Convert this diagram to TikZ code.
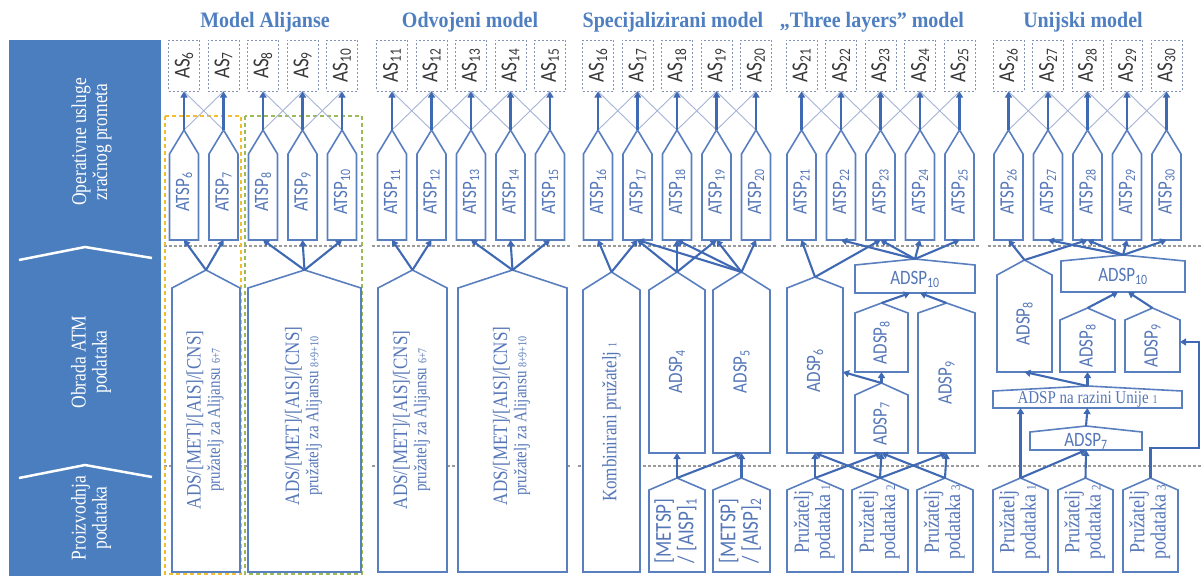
\documentclass[tikz,border=0pt]{standalone}
\usepackage{fontspec}
\setmainfont{Liberation Serif}
\newfontfamily\calfont{Carlito}
\usetikzlibrary{arrows.meta,calc}
\definecolor{panelc}{HTML}{4A7EBF}
\definecolor{titlec}{HTML}{4F7FC0}
\definecolor{boxc}{HTML}{5A7FBF}
\definecolor{arrc}{HTML}{3F69B2}
\definecolor{txtc}{HTML}{5577B8}
\definecolor{asc}{HTML}{8494B4}
\definecolor{thinc}{HTML}{A4B3D6}
\definecolor{sepc}{HTML}{9A9A9A}
\definecolor{yelc}{HTML}{F2BE2E}
\definecolor{grnc}{HTML}{9BBB59}
\tikzset{
 hbox/.style={draw=boxc, fill=white, line width=1.6pt, line join=miter},
 txt/.style={inner sep=0pt, text=txtc},
 arr/.style={draw=arrc, line width=2.1pt, -{Triangle[length=6pt,width=7pt]}},
 thinl/.style={draw=thinc, line width=0.9pt},
 asbox/.style={draw=asc, dash pattern=on 2pt off 2pt, line width=1pt, minimum width=31pt, minimum height=51pt, inner sep=0pt, text=black!78},
 sepl/.style={draw=sepc, dash pattern=on 3pt off 2pt, line width=1.1pt},
 ttl/.style={text=titlec, inner sep=0pt, font=\fontsize{20}{22}\selectfont\bfseries},
}
\newcommand{\fsz}[1]{\fontsize{#1}{#1}\selectfont}
\newcommand{\tall}[1]{\scalebox{1}[1.2]{#1}}
\newcommand{\rotx}[1]{\rotatebox{90}{\tall{#1}}}
\newcommand{\rottwo}[2]{\rotatebox{90}{\tall{\begin{tabular}{@{}c@{}}#1\\#2\end{tabular}}}}
% name, xl, xr, yapex, yshoulder, ybottom, node options, text
\newcommand{\house}[8]{%
  \draw[hbox] (#2,#6) -- (#2,#5) -- ({(#2+#3)/2},#4) -- (#3,#5) -- (#3,#6) -- cycle;
  \coordinate (#1-a) at ({(#2+#3)/2},#4);
  \coordinate (#1-b) at ({(#2+#3)/2},#6);
  \node[#7] (#1) at ({(#2+#3)/2},{(#5+#6)/2}) {#8};
}
\newcommand{\adstext}[1]{\rotatebox{90}{\tall{\fontsize{17}{16}\selectfont\begin{tabular}{@{}c@{}}ADS/[MET]/[AIS]/[CNS]\\ \fontsize{15}{15}\selectfont pružatelj za Alijansu {\fsz{10}#1}\end{tabular}}}}
\newcommand{\prtext}[1]{{\fontsize{18}{17}\selectfont\rottwo{Pružatelj}{podataka {\fsz{11}#1}}}}
\newcommand{\adsptext}[1]{\rotx{\calfont\fsz{17}ADSP\textsubscript{#1}}}
\begin{document}
\begin{tikzpicture}[x=1pt,y=-1pt]
\useasboundingbox (0,0) rectangle (1201,576);
% left panel
\fill[panelc] (9,40) rectangle (161,576);
\draw[white, line width=2.5pt] (19,260) -- (85,247) -- (152,258);
\draw[white, line width=2.5pt] (19,478) -- (85,465) -- (152,477);
\node[text=white, inner sep=0pt] (lab1) at (92.5,142) {\fontsize{17.5}{17.5}\selectfont\rottwo{Operativne usluge}{zračnog prometa}};
\node[text=white, inner sep=0pt] (lab2) at (92,362) {\fontsize{17.5}{17.5}\selectfont\rottwo{Obrada ATM}{podataka}};
\node[text=white, inner sep=0pt] (lab3) at (92,518) {\fontsize{17.5}{17.5}\selectfont\rottwo{Proizvodnja}{podataka}};
% titles
\node[ttl] (t1) at (265,22) {\scalebox{1}[1.1]{Model Alijanse}};
\node[ttl] (t2) at (470,22) {\scalebox{1}[1.1]{Odvojeni model}};
\node[ttl] (t3) at (673,22) {\scalebox{1}[1.1]{Specijalizirani model}};
\node[ttl] (t4) at (872,22) {\scalebox{1}[1.1]{„Three layers” model}};
\node[ttl] (t5) at (1083,22) {\scalebox{1}[1.1]{Unijski model}};
% separators
\foreach \a/\b in {164/362, 372/570, 578/776, 781/980, 988/1201} {
  \draw[sepl] (\a,246) -- (\b,246);
  \draw[sepl] (\a,466) -- (\b,466);
}
% alliance frames
\draw[yelc, line width=1.3pt, dash pattern=on 4pt off 3pt] (165,116) rectangle (241,574);
\draw[grnc, line width=1.3pt, dash pattern=on 4pt off 3pt] (245,116) rectangle (362,574);
% AS and ATSP columns
\foreach \g/\n in {184/6, 392/11, 598/16, 801.5/21, 1008.5/26} {
  \foreach \i in {0,...,4} {
    \pgfmathsetmacro\cx{\g+39.5*\i}
    \pgfmathtruncatemacro\k{\n+\i}
    \node[asbox] (as\k) at (\cx,65.5) {\rotx{\calfont\fsz{19}AS\textsubscript{\k}}};
    \house{atsp\k}{\cx-14.5}{\cx+14.5}{130}{154}{240}{txt,yshift=5pt}{\rotx{\calfont\fsz{17}ATSP\textsubscript{\k}}}
  }
}
% thin cross links
\foreach \a/\b in {6/7,8/9,9/10,11/12,12/13,13/14,14/15,16/17,17/18,18/19,19/20,21/22,22/23,23/24,24/25,26/27,27/28,28/29,29/30} {
  \draw[thinl] (atsp\a-a) -- (as\b.south);
  \draw[thinl] (atsp\b-a) -- (as\a.south);
}
\foreach \k in {6,...,30} { \draw[arr] (atsp\k-a) -- (as\k.south); }
% ---------- Model Alijanse
\house{ali1}{172}{240}{270}{288}{572}{txt,yshift=10pt}{\adstext{6+7}}
\house{ali2}{248}{361}{270}{288}{572}{txt,yshift=14pt}{\adstext{8+9+10}}
\foreach \t in {6,7} \draw[arr] (ali1-a) -- (atsp\t-b);
\foreach \t in {8,9,10} \draw[arr] (ali2-a) -- (atsp\t-b);
% ---------- Odvojeni model
\house{odv1}{378}{447}{270}{288}{572}{txt,yshift=10pt}{\adstext{6+7}}
\house{odv2}{458}{567}{270}{288}{572}{txt,yshift=14pt}{\adstext{8+9+10}}
\foreach \t in {11,12} \draw[arr] (odv1-a) -- (atsp\t-b);
\foreach \t in {13,14,15} \draw[arr] (odv2-a) -- (atsp\t-b);
% ---------- Specijalizirani model
\house{komb}{583}{640}{272}{290}{572}{txt,yshift=9pt}{\rotx{\fsz{17}Kombinirani pružatelj {\fsz{10}1}}}
\house{adsp4}{649}{705}{272}{290}{453}{txt}{\adsptext{4}}
\house{adsp5}{713}{770}{272}{290}{453}{txt}{\adsptext{5}}
\house{met1}{649}{705}{478}{490}{572}{txt}{\calfont\fontsize{19}{17}\selectfont\rottwo{[METSP]}{/ [AISP]\textsubscript{1}}}
\house{met2}{713}{770}{478}{490}{572}{txt}{\calfont\fontsize{19}{17}\selectfont\rottwo{[METSP]}{/ [AISP]\textsubscript{2}}}
\foreach \t in {16,17} \draw[arr] (komb-a) -- (atsp\t-b);
\foreach \t in {17,18,19} \draw[arr] (adsp4-a) -- (atsp\t-b);
\foreach \t in {17,18,19,20} \draw[arr] (adsp5-a) -- (atsp\t-b);
\draw[arr] (met1-a) -- (adsp4-b);
\draw[arr] (met1-a) -- (adsp5-b);
\draw[arr] (met2-a) -- (adsp5-b);
% ---------- Three layers model
\house{adsp6t}{787}{843}{277}{288}{453}{txt}{\adsptext{6}}
\house{adsp10t}{855}{975}{259}{265}{293}{txt}{\tall{\calfont\fsz{17}ADSP\textsubscript{10}}}
\house{adsp8t}{855}{908}{303}{313}{372}{txt}{\adsptext{8}}
\house{adsp9t}{918}{975}{303}{313}{453}{txt}{\adsptext{9}}
\house{adsp7t}{855}{908}{383}{395}{453}{txt}{\adsptext{7}}
\house{p1t}{787}{843}{478}{490}{572}{txt,yshift=9pt}{\prtext{1}}
\house{p2t}{852}{908}{478}{490}{572}{txt,yshift=9pt}{\prtext{2}}
\house{p3t}{917}{973}{478}{490}{572}{txt,yshift=9pt}{\prtext{3}}
\coordinate (adsp6t-r) at (843,372);
\draw[arr] (adsp6t-a) -- (atsp21-b);
\draw[arr] (adsp6t-a) -- (atsp23-b);
\foreach \t in {22,23,24,25} \draw[arr] (adsp10t-a) -- (atsp\t-b);
\draw[arr] (adsp8t-a) -- ($(adsp10t-b)+(-5,0)$);
\draw[arr] (adsp9t-a) -- ($(adsp10t-b)+(5,0)$);
\draw[arr] (adsp7t-a) -- (adsp8t-b);
\draw[arr] (adsp7t-a) -- (adsp6t-r);
\draw[arr] (p1t-a) -- (adsp6t-b);
\draw[arr] (p1t-a) -- (adsp7t-b);
\draw[arr] (p2t-a) -- (adsp6t-b);
\draw[arr] (p2t-a) -- (adsp7t-b);
\draw[arr] (p2t-a) -- (adsp9t-b);
\draw[arr] (p3t-a) -- (adsp7t-b);
\draw[arr] (p3t-a) -- (adsp9t-b);
% ---------- Unijski model
\house{adsp8u}{997}{1052}{260}{275}{372}{txt}{\adsptext{8}}
\house{adsp10u}{1061}{1185}{255}{261}{292}{txt}{\tall{\calfont\fsz{17}ADSP\textsubscript{10}}}
\house{adsp8s}{1060}{1115}{308}{320}{372}{txt}{\adsptext{8}}
\house{adsp9u}{1125}{1180}{308}{320}{372}{txt}{\adsptext{9}}
\house{raz}{993}{1182}{386}{391}{408}{txt}{\tall{\fsz{15}ADSP na razini Unije {\fsz{10}1}}}
\house{adsp7u}{1030}{1142}{426}{432}{450}{txt}{\tall{\calfont\fsz{17}ADSP\textsubscript{7}}}
\house{p1u}{993}{1048}{478}{490}{572}{txt,yshift=9pt}{\prtext{1}}
\house{p2u}{1058}{1113}{478}{490}{572}{txt,yshift=9pt}{\prtext{2}}
\house{p3u}{1123}{1178}{478}{490}{572}{txt,yshift=9pt}{\prtext{3}}
\coordinate (adsp9u-r) at (1180,342);
\coordinate (ur1) at (1199,448);
\coordinate (ur2) at (1199,342);
\draw[arr] (adsp8u-a) -- (atsp26-b);
\draw[arr] (adsp8u-a) -- (atsp28-b);
\foreach \t in {27,28,29,30} \draw[arr] (adsp10u-a) -- (atsp\t-b);
\draw[arr] (adsp8s-a) -- ($(adsp10u-b)+(-5,0)$);
\draw[arr] (adsp9u-a) -- ($(adsp10u-b)+(5,0)$);
\draw[arr] (raz-a) -- (adsp8u-b);
\draw[arr] (raz-a) -- (adsp8s-b);
\draw[arr] (adsp7u-a) -- (raz-b);
\draw[arr] (p1u-a) -- (p1u-a |- raz-b);
\draw[arr] (p1u-a) -- (adsp7u-b);
\draw[arr] (p2u-a) -- (adsp7u-b);
\draw[arr] (p3u-a) |- (ur1) -- (ur2) -- (adsp9u-r);
\end{tikzpicture}
\end{document}
